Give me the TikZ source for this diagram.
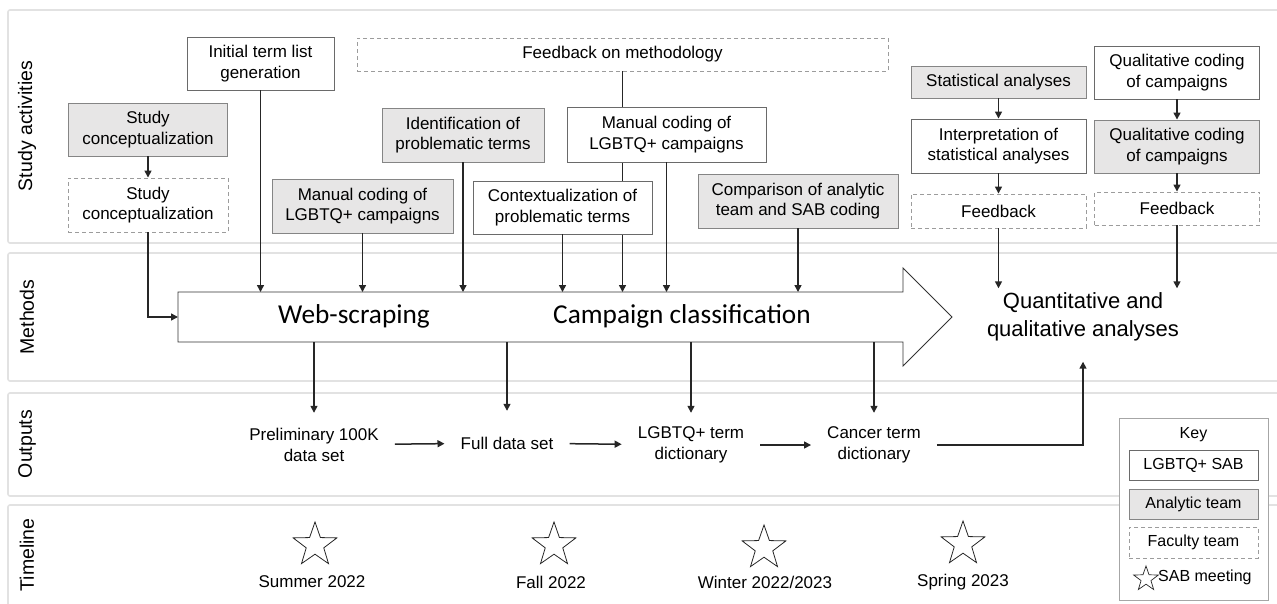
\documentclass[tikz,border=0pt]{standalone}
\usepackage{fontspec}
\setmainfont{Liberation Sans}
\newfontfamily\calfont{Carlito}
\usetikzlibrary{arrows.meta,shapes.geometric}
\definecolor{anafill}{HTML}{E7E6E6}
\definecolor{panelline}{HTML}{E2E2E2}
\definecolor{sabline}{HTML}{6A6A6A}
\definecolor{analine}{HTML}{858585}
\definecolor{facline}{HTML}{9C9C9C}
\definecolor{keyline}{HTML}{A6A6A6}
\pgfdeclarelayer{bg}
\pgfdeclarelayer{lines}
\pgfsetlayers{bg,lines,main}
\tikzset{
  txt/.style={font=\fontsize{17}{20.5}\selectfont, align=center},
  box/.style={txt, inner sep=0pt, line width=0.9pt},
  sab/.style={box, draw=sabline, fill=white},
  ana/.style={box, draw=analine, fill=anafill},
  fac/.style={box, draw=facline, fill=white, dash pattern=on 4pt off 3pt},
  panel/.style={draw=panelline, line width=1.6pt, rounded corners=2pt},
  lab/.style={font=\fontsize{19.5}{23}\selectfont, rotate=90},
  conn/.style={line width=1.5pt, draw=black!85},
  arr/.style={conn, -{Triangle[length=7pt,width=7pt]}},
  bigarrow/.style={draw=black!80, line width=0.9pt, fill=white},
  outtxt/.style={txt, inner xsep=16pt, inner ysep=0pt, minimum height=64pt},
  starsh/.style={star, star points=5, star point ratio=2.5, minimum size=46pt, inner sep=0pt, draw=black!85, line width=0.8pt},
  tl/.style={txt},
  keytxt/.style={font=\fontsize{16}{19}\selectfont, align=center}
}
\begin{document}
\begin{tikzpicture}[x=1pt,y=-1pt]
\useasboundingbox (0,0) rectangle (1277,603);

% lanes
\begin{pgfonlayer}{bg}
\draw[panel] (8,10) rectangle (1295,243);
\draw[panel] (8,253) rectangle (1295,381);
\draw[panel] (8,393) rectangle (1295,496);
\draw[panel] (8,505) rectangle (1295,620);
\end{pgfonlayer}
\node[lab] (lsa) at (27,126) {Study activities};
\node[lab] (lme) at (27,317) {Methods};
\node[lab] (lou) at (27,444) {Outputs};
\node[lab] (lti) at (27,555) {Timeline};

% big arrow
\draw[bigarrow] (178,292) -- (903,292) -- (903,268) -- (952,317) -- (903,366) -- (903,342) -- (178,342) -- cycle;
\coordinate (bigtop) at (0,292);
\coordinate (bigbot) at (0,342);
\coordinate (bigin) at (178,317);
\node[font=\calfont\fontsize{27.3}{32}\selectfont] (ws) at (354,316) {Web-scraping};
\node[font=\calfont\fontsize{27.3}{32}\selectfont] (cc) at (682,316) {Campaign classification};

% study activities boxes
\node[ana, minimum width=159, minimum height=53] (sc1) at (148,129.5) {Study\\conceptualization};
\node[fac, minimum width=160, minimum height=54] (sc2) at (148,205) {Study\\conceptualization};
\node[sab, minimum width=147, minimum height=53] (init) at (260.5,63.5) {Initial term list\\generation};
\node[ana, minimum width=181, minimum height=54] (mc1) at (362.5,206) {Manual coding of\\LGBTQ+ campaigns};
\node[ana, minimum width=162, minimum height=54] (ident) at (463,135) {Identification of\\problematic terms};
\node[fac, minimum width=531, minimum height=33] (fom) at (622.5,54.5) {Feedback on methodology};
\node[sab, minimum width=199, minimum height=55] (mc2) at (666.5,134.5) {Manual coding of\\LGBTQ+ campaigns};
\node[sab, minimum width=179, minimum height=53] (ctx) at (562.5,207.5) {Contextualization of\\problematic terms};
\node[ana, minimum width=200, minimum height=54] (cmp) at (798,201) {Comparison of analytic\\team and SAB coding};
\node[ana, minimum width=175, minimum height=32] (stat) at (998.5,82) {Statistical analyses};
\node[sab, minimum width=175, minimum height=54] (interp) at (998.5,146) {Interpretation of\\statistical analyses};
\node[fac, minimum width=175, minimum height=34] (fb1) at (998.5,211) {Feedback};
\node[sab, minimum width=165, minimum height=53] (q1) at (1177,72.5) {Qualitative coding\\of campaigns};
\node[ana, minimum width=165, minimum height=53] (q2) at (1177,146.5) {Qualitative coding\\of campaigns};
\node[fac, minimum width=165, minimum height=33] (fb2) at (1177,208.5) {Feedback};

\node[font=\fontsize{22}{28.5}\selectfont, align=center, inner sep=4pt] (qa) at (1083,317) {Quantitative and\\qualitative analyses};

% connectors from study activities
\begin{pgfonlayer}{lines}
\draw[arr] (fom.south) -- (fom.south |- bigtop);
\end{pgfonlayer}
\draw[arr] (sc1) -- (sc2);
\draw[arr] (sc2.south) |- (bigin);
\draw[arr] (init) -- (init |- bigtop);
\draw[arr] (mc1) -- (mc1 |- bigtop);
\draw[arr] (ident) -- (ident |- bigtop);
\draw[arr] (ctx) -- (ctx |- bigtop);
\draw[arr] (mc2) -- (mc2 |- bigtop);
\draw[arr] (cmp) -- (cmp |- bigtop);
\draw[arr] (stat) -- (interp);
\draw[arr] (interp) -- (fb1);
\draw[arr] (fb1) -- (fb1 |- qa.north);
\draw[arr] (q1) -- (q2);
\draw[arr] (q2) -- (fb2);
\draw[arr] (fb2) -- (fb2 |- qa.north);

% outputs
\node[outtxt] (pre) at (314,445) {Preliminary 100K\\data set};
\node[outtxt] (full) at (507,443) {Full data set};
\node[outtxt] (lgb) at (691,445) {LGBTQ+ term\\dictionary};
\node[outtxt] (can) at (874,445) {Cancer term\\dictionary};
\draw[arr] (pre |- bigbot) -- (pre);
\draw[arr] (full |- bigbot) -- (full);
\draw[arr] (lgb |- bigbot) -- (lgb);
\draw[arr] (can |- bigbot) -- (can);
\draw[arr] (pre) -- (full);
\draw[arr] (full) -- (lgb);
\draw[arr] (lgb) -- (can);
\draw[arr, shorten >=16pt] (can.east) -| (qa.south);

% timeline
\node[starsh] (s1) at (315,545) {};
\node[starsh] (s2) at (554,545) {};
\node[starsh] (s3) at (764,548) {};
\node[starsh] (s4) at (963,544) {};
\node[tl] (t1) at (312,582) {Summer 2022};
\node[tl] (t2) at (551,582) {Fall 2022};
\node[tl] (t3) at (765,582) {Winter 2022/2023};
\node[tl] (t4) at (963,582) {Spring 2023};

% key
\node[draw=keyline, fill=white, line width=0.9pt, minimum width=149, minimum height=182, inner sep=0pt] (key) at (1193.5,509) {};
\node[keytxt] (keyt) at (1193.5,435) {Key};
\node[sab, keytxt, inner sep=0pt, minimum width=129, minimum height=30] (k1) at (1193.5,465) {LGBTQ+ SAB};
\node[ana, keytxt, inner sep=0pt, minimum width=129, minimum height=30] (k2) at (1193.5,504) {Analytic team};
\node[fac, keytxt, inner sep=0pt, minimum width=129, minimum height=31] (k3) at (1193.5,542.5) {Faculty team};
\node[starsh, minimum size=26pt, line width=0.7pt] (k4s) at (1146,579) {};
\node[keytxt, anchor=west, inner sep=0pt] (k4) at (1158,577) {SAB meeting};
\end{tikzpicture}
\end{document}
